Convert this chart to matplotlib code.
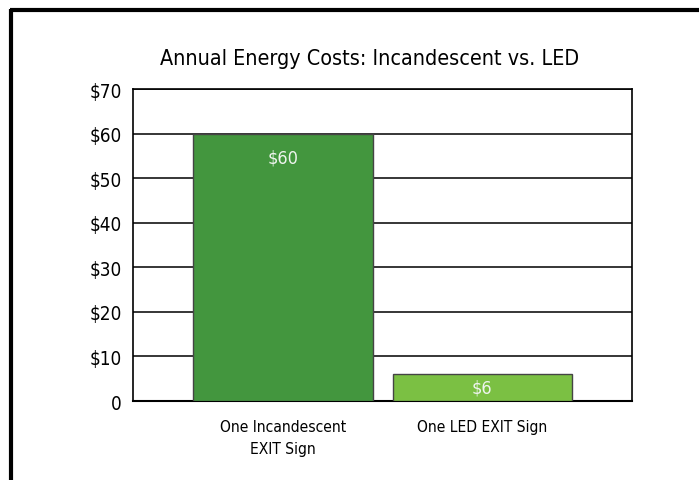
import matplotlib.pyplot as plt
from matplotlib.lines import Line2D

categories = ['One Incandescent\nEXIT Sign', 'One LED EXIT Sign']
costs = [60, 6]
value_labels = ['$60', '$6']
bar_colors = ['#43963e', '#7bc043']
yticks = [0, 10, 20, 30, 40, 50, 60, 70]
ytick_labels = ['0', '$10', '$20', '$30', '$40', '$50', '$60', '$70']

plt.rcParams['font.family'] = ['DejaVu Sans']
plt.rcParams['font.stretch'] = 'condensed'

fig = plt.figure(figsize=(6.99, 4.81), dpi=100)
ax = fig.add_axes([0.1903, 0.1642, 0.7139, 0.6486])

x = list(range(len(costs)))
ax.bar(x, costs, width=0.9, color=bar_colors, edgecolor='#444444', linewidth=1, zorder=3)

# value labels inside the bars
for i, (v, lab) in enumerate(zip(costs, value_labels)):
    ypos = v - 5.3 if v > 20 else v / 2
    ax.text(i, ypos, lab, ha='center', va='center', color='#eef4ee', fontsize=13, zorder=4)

ax.set_xlim(-0.75, 1.75)
ax.set_ylim(0, 70)
ax.set_yticks(yticks)
ax.set_yticklabels(ytick_labels, fontsize=13.6)
ax.set_xticks(x)
ax.set_xticklabels(categories, fontsize=11.2, linespacing=1.55)
ax.tick_params(axis='both', length=0)
ax.tick_params(axis='y', pad=8)
ax.tick_params(axis='x', pad=13)
ax.yaxis.grid(True, color='black', linewidth=1.1)
ax.set_axisbelow(True)
for s in ax.spines.values():
    s.set_linewidth(1.2)
    s.set_color('black')
ax.spines['bottom'].set_linewidth(1.5)

ax.set_title('Annual Energy Costs: Incandescent vs. LED', fontsize=15.4, pad=18, x=0.475)

# outer frame (top and left only visible)
fig.add_artist(Line2D([10 / 699, 1.0], [1 - 11 / 481, 1 - 11 / 481], color='black', linewidth=3,
                      solid_capstyle='butt', transform=fig.transFigure))
fig.add_artist(Line2D([11 / 699, 11 / 699], [0.0, 1 - 9.5 / 481], color='black', linewidth=3,
                      solid_capstyle='butt', transform=fig.transFigure))

fig.savefig('out.png', dpi=100)
